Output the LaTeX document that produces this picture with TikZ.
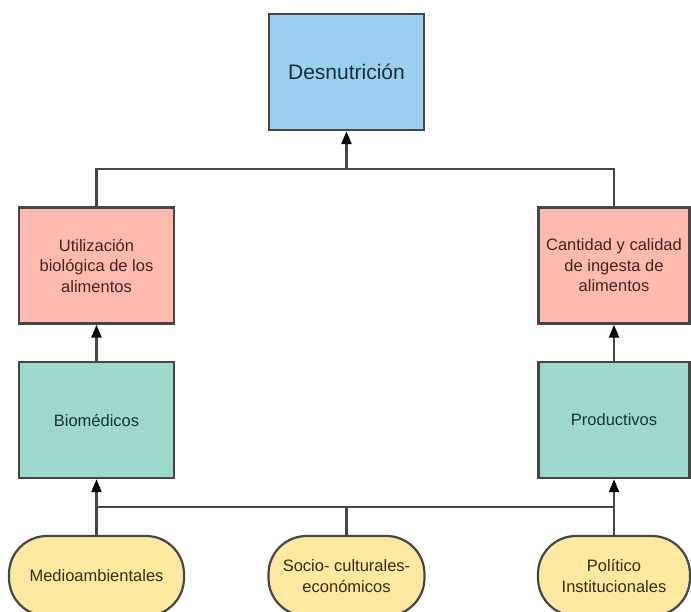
\documentclass[tikz,border=0pt]{standalone}
\usepackage{fontspec}
\setmainfont{Liberation Sans}
\usetikzlibrary{arrows.meta}
\definecolor{cblue}{RGB}{155,207,240}
\definecolor{cpink}{RGB}{255,186,176}
\definecolor{cteal}{RGB}{158,216,204}
\definecolor{cyel}{RGB}{255,232,160}
\definecolor{cline}{RGB}{70,70,70}
\definecolor{tblue}{RGB}{25,45,65}
\definecolor{tpink}{RGB}{70,35,30}
\definecolor{tteal}{RGB}{20,55,50}
\definecolor{tyel}{RGB}{55,45,20}
\tikzset{
  box/.style={draw=cline, line width=2.4pt, minimum width=155pt, minimum height=116pt,
    inner sep=2pt, align=center, font=\fontsize{16.5}{20.5}\selectfont},
  oval/.style={draw=cline, line width=2.2pt, fill=cyel, text=tyel, rounded corners=38pt,
    minimum height=80pt, inner sep=2pt, align=center, font=\fontsize{16.5}{21}\selectfont},
  conn/.style={draw=cline, line width=2.4pt},
  arr/.style={conn, -{Triangle[length=13pt,width=10pt,fill=black,color=black]}}
}
\begin{document}
\begin{tikzpicture}[x=1pt,y=-1pt]
\useasboundingbox (0,0) rectangle (691,611);
\clip (0,0) rectangle (691,611);
\node[box, fill=cblue, text=tblue, font=\fontsize{21}{25}\selectfont] (des) at (346.5,72) {Desnutrición};
\node[box, fill=cpink, text=tpink] (util) at (96.5,265.5) {Utilización\\biológica de los\\alimentos};
\node[box, fill=cpink, text=tpink, minimum width=151pt] (cant) at (614,265.5) {Cantidad y calidad\\de ingesta de\\alimentos};
\node[box, fill=cteal, text=tteal] (bio) at (96.5,420) {Biomédicos};
\node[box, fill=cteal, text=tteal, minimum width=151pt] (prod) at (614,420) {Productivos};
\node[oval, minimum width=175pt] (medio) at (96.5,576) {Medioambientales};
\node[oval, minimum width=156pt] (socio) at (346.5,576) {Socio- culturales-\\económicos};
\node[oval, minimum width=152pt] (pol) at (614,576) {Político\\Institucionales};
\coordinate (tj) at (346.5,169);
\coordinate (bj) at (346.5,507);
\draw[conn] (util.north) |- (tj) -| (cant.north);
\draw[arr] (tj) -- (des.south);
\draw[arr] (bio.north) -- (util.south);
\draw[arr] (prod.north) -- (cant.south);
\draw[arr] (medio.north) -- (bio.south);
\draw[arr] (pol.north) -- (prod.south);
\draw[conn] (medio.north |- bj) -- (pol.north |- bj);
\draw[conn] (socio.north) -- (bj);
\end{tikzpicture}
\end{document}
